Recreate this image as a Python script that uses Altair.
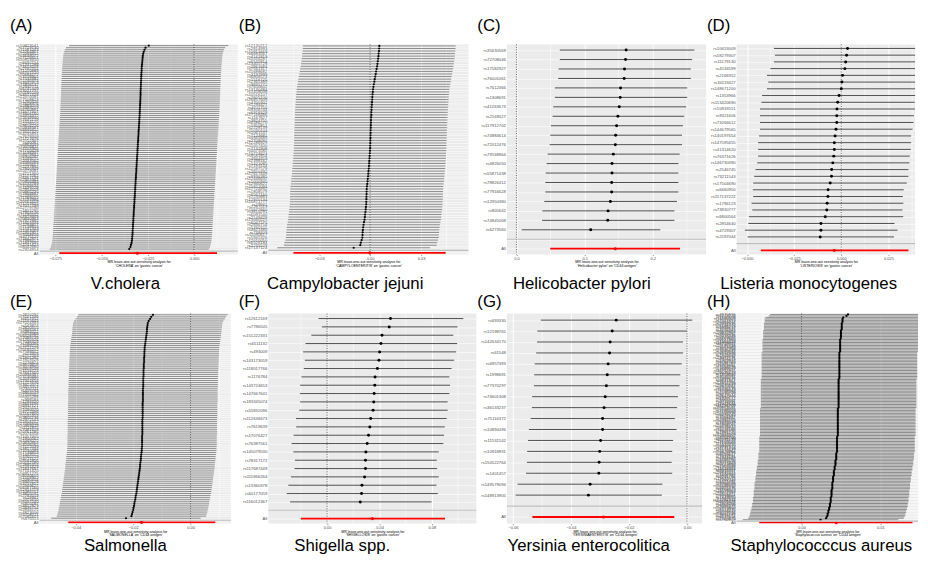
import altair as alt
import pandas as pd

FONT = "Liberation Sans"

# ---------------- Panel A : V.cholera ----------------
A_SNPS = """rs10823541 rs7729130 rs11581043 rs2264907 rs12093812 rs4648072 rs17126651 rs10919450 rs6692154 rs1337288
rs74619208 rs2792751 rs11210889 rs6701520 rs10494172 rs1558902 rs7534982 rs12740374 rs3845913 rs11806132
rs2947711 rs6745309 rs13021737 rs10185209 rs4671328 rs12470581 rs17508823 rs1260326 rs7608976 rs2883059
rs13389219 rs6760891 rs11677407 rs9306160 rs4974372 rs12639940 rs7645179 rs1514175 rs2276015 rs9816226
rs10938397 rs6846452 rs13107325 rs4235831 rs7679309 rs11727676 rs2112347 rs40067 rs6864049 rs10056811
rs4704965 rs7710428 rs13198397 rs9379832 rs6906287 rs1049225 rs2033562 rs9388489 rs12205617 rs2237892
rs7800949 rs10274081 rs4721360 rs1177561 rs6467136 rs2303361 rs10956483 rs4733789 rs13266634 rs1439228
rs2954029 rs10965235 rs7868987 rs2249105 rs11789015 rs3793986 rs10761659 rs11257655 rs7077799 rs12779790
rs1802295 rs7903146 rs11195502 rs4929949 rs10830963 rs7927892 rs11603334 rs2293857 rs7138803 rs1531343
rs11063069 rs12301951 rs9568856 rs4771122 rs11842871 rs7988412 rs11847697 rs2241423 rs8042680 rs2924914""".split()
A_BETA = [-0.0245, -0.0262, -0.0268, -0.0272, -0.0275, -0.0277, -0.0278, -0.0279, -0.0280, -0.0281,
          -0.0282, -0.0283, -0.0283, -0.0284, -0.0285, -0.0285, -0.0286, -0.0286, -0.0287, -0.0287,
          -0.0288, -0.0288, -0.0289, -0.0289, -0.0289, -0.0290, -0.0290, -0.0291, -0.0291, -0.0292,
          -0.0292, -0.0293, -0.0293, -0.0294, -0.0294, -0.0295, -0.0296, -0.0296, -0.0297, -0.0298,
          -0.0298, -0.0299, -0.0300, -0.0300, -0.0301, -0.0302, -0.0302, -0.0303, -0.0304, -0.0304,
          -0.0305, -0.0306, -0.0306, -0.0307, -0.0308, -0.0308, -0.0309, -0.0310, -0.0310, -0.0311,
          -0.0312, -0.0312, -0.0313, -0.0314, -0.0314, -0.0315, -0.0316, -0.0316, -0.0317, -0.0318,
          -0.0318, -0.0319, -0.0320, -0.0320, -0.0321, -0.0322, -0.0322, -0.0323, -0.0324, -0.0324,
          -0.0325, -0.0326, -0.0326, -0.0327, -0.0328, -0.0328, -0.0329, -0.0330, -0.0330, -0.0331,
          -0.0332, -0.0332, -0.0333, -0.0334, -0.0335, -0.0336, -0.0338, -0.0341, -0.0344, -0.0350]
A_HW = 0.043
A_ALL = [-0.0306, -0.0728, 0.0124]

# ---------------- Panel B : Campylobacter jejuni ----------------
B_SNPS = """rs12130212 rs2814993 rs10913469 rs6683567 rs4141819 rs1016287 rs6545814 rs13405728 rs2861684 rs7561317
rs11688682 rs3197999 rs6808574 rs1516725 rs2365389 rs9835772 rs7650602 rs13130484 rs1458038 rs10516107
rs2605100 rs16857609 rs4700302 rs1294421 rs4711750 rs9356744 rs6918329 rs17168486 rs1167827 rs3824755
rs6586270 rs1955851 rs2228139 rs11030104 rs1061537 rs7124681 rs4945689 rs2708092 rs12286929 rs11057400
rs7132908 rs4073582 rs10774624 rs9581854 rs4944359 rs2398162 rs1421085 rs7193144 rs12597579 rs2650492
rs17817449 rs9936385 rs12446632 rs1000940 rs12940622 rs11652094 rs17724992 rs1808579 rs6567160 rs7239883
rs12970134 rs10871777 rs29941 rs2287019 rs11672660 rs3810291 rs6091540 rs2149429 rs13040225 rs6047270
rs2836754 rs5760155 rs4821480 rs738409 rs11090617 rs5945326 rs12010050 rs6526184 rs2235529 rs17137124""".split()
B_BETA = [0.0054, 0.0053, 0.0052, 0.0050, 0.0049, 0.0047, 0.0045, 0.0043, 0.0041, 0.0038,
          0.0035, 0.0033, 0.0030, 0.0027, 0.0025, 0.0022, 0.0019, 0.0017, 0.0016, 0.0014,
          0.0013, 0.0012, 0.0011, 0.0010, 0.0009, 0.0008, 0.0007, 0.0007, 0.0006, 0.0005,
          0.0005, 0.0004, 0.0004, 0.0003, 0.0003, 0.0002, 0.0002, 0.0001, 0.0001, 0.0000,
          0.0000, -0.0001, -0.0002, -0.0003, -0.0004, -0.0005, -0.0006, -0.0007, -0.0008, -0.0010,
          -0.0011, -0.0012, -0.0014, -0.0015, -0.0017, -0.0019, -0.0020, -0.0021, -0.0021, -0.0022,
          -0.0022, -0.0023, -0.0023, -0.0025, -0.0026, -0.0028, -0.0030, -0.0031, -0.0033, -0.0036,
          -0.0039, -0.0041, -0.0043, -0.0044, -0.0045, -0.0046, -0.0050, -0.0055, -0.0058, -0.0097]
B_HW = 0.045
B_ALL = [-0.0003, -0.0452, 0.0445]

# ---------------- Panel C : Helicobacter pylori ----------------
C_SNPS = """rs35630569 rs72708046 rs17582927 rs76001061 rs7612366 rs1308691 rs41263673 rs2169027 rs117912702 rs74884614
rs72012476 rs79168864 rs6826050 rs55871438 rs78826412 rs77916628 rs12950380 rs805642 rs74845068 rs6273560""".split()
C_BETA = [0.1609, 0.1600, 0.1585, 0.1580, 0.1527, 0.1522, 0.1508, 0.1488, 0.1469, 0.1455,
          0.1450, 0.1421, 0.1402, 0.1402, 0.1397, 0.1397, 0.1378, 0.1344, 0.1339, 0.1089]
C_LO = [0.0636, 0.0636, 0.0617, 0.0612, 0.0564, 0.0564, 0.0539, 0.0530, 0.0506, 0.0496,
        0.0487, 0.0458, 0.0443, 0.0429, 0.0424, 0.0424, 0.0409, 0.0380, 0.0376, 0.0077]
C_HI = [0.2610, 0.2577, 0.2558, 0.2558, 0.2505, 0.2505, 0.2490, 0.2461, 0.2442, 0.2428,
        0.2428, 0.2394, 0.2375, 0.2375, 0.2375, 0.2375, 0.2355, 0.2317, 0.2317, 0.2110]
C_ALL = [0.1450, 0.0496, 0.2399]

# ---------------- Panel D : Listeria monocytogenes ----------------
D_SNPS = """rs10653009 rs58279307 rs11179130 rs4534599 rs2168352 rs34119427 rs148671200 rs1353966 rs113420690 rs10833551
rs9321606 rs73266612 rs144679565 rs140197654 rs147595655 rs41314620 rs76371626 rs146730390 rs2546745 rs73211543
rs17504690 rs6660950 rs117137222 rs1796123 rs73830777 rs6800564 rs2854640 rs4729307 rs2597044""".split()
D_BETA = [0.0033, 0.0028, 0.0023, 0.0019, 0.0007, 0.0003, 0.0000, -0.0012, -0.0019, -0.0023,
          -0.0024, -0.0024, -0.0028, -0.0033, -0.0037, -0.0037, -0.0040, -0.0045, -0.0051, -0.0052,
          -0.0059, -0.0070, -0.0071, -0.0075, -0.0077, -0.0085, -0.0108, -0.0108, -0.0112]
D_LO = [-0.0357, -0.0352, -0.0357, -0.0376, -0.0394, -0.0387, -0.0394, -0.0420, -0.0424, -0.0431,
        -0.0431, -0.0431, -0.0431, -0.0436, -0.0441, -0.0441, -0.0441, -0.0446, -0.0455, -0.0462,
        -0.0467, -0.0469, -0.0467, -0.0476, -0.0472, -0.0490, -0.0493, -0.0511, -0.0497]
D_HI = [0.0432, 0.0411, 0.0404, 0.0415, 0.0408, 0.0399, 0.0396, 0.0399, 0.0389, 0.0390,
        0.0385, 0.0383, 0.0378, 0.0370, 0.0370, 0.0368, 0.0363, 0.0361, 0.0356, 0.0356,
        0.0347, 0.0331, 0.0326, 0.0329, 0.0324, 0.0328, 0.0282, 0.0298, 0.0279]
D_ALL = [-0.0037, -0.0427, 0.0356]

# ---------------- Panel E : Salmonella ----------------
E_SNPS = """rs2820292 rs3101336 rs657452 rs11165643 rs17024393 rs543874 rs2820315 rs4846567 rs984222 rs10919388
rs6428792 rs12088739 rs1260326 rs17036328 rs780094 rs13389219 rs2121279 rs10195252 rs7599312 rs13303
rs6712203 rs1801282 rs17819328 rs2276824 rs9879858 rs13078960 rs6809548 rs1516723 rs7647305 rs10938397
rs13130484 rs2035935 rs17001654 rs11727676 rs3822072 rs4457053 rs2307111 rs459193 rs6864049 rs7705502
rs6905288 rs998584 rs1294410 rs9491696 rs6937121 rs2025151 rs1040070 rs4722398 rs1167800 rs10245353
rs3801136 rs2972143 rs12454712 rs17066856 rs10969429 rs1111875 rs7081678 rs10761785 rs2074356 rs11057405
rs1800562 rs1049222 rs10830963 rs4506565 rs7122539 rs3817334 rs11030084 rs7138803 rs1443512 rs4765219
rs4771122 rs9581856 rs10132280 rs12885454 rs2241423 rs11847697 rs7141420 rs16951275 rs8030605 rs1558902
rs2080454 rs9940128 rs3751812 rs12940622 rs6567160 rs12454719 rs11084753 rs3810291 rs2287019 rs29942
rs2075650 rs6091540 rs910187 rs4812829 rs2836754 rs2834225 rs4823006 rs5758511 rs2281617 rs470113""".split()
E_BETA = [-0.0131, -0.0137, -0.0141, -0.0146, -0.0149, -0.0150, -0.0151, -0.0152, -0.0152, -0.0153,
          -0.0154, -0.0155, -0.0156, -0.0157, -0.0158, -0.0159, -0.0160, -0.0160, -0.0161, -0.0161,
          -0.0161, -0.0162, -0.0162, -0.0162, -0.0163, -0.0163, -0.0163, -0.0164, -0.0164, -0.0164,
          -0.0164, -0.0165, -0.0165, -0.0165, -0.0165, -0.0165, -0.0166, -0.0166, -0.0166, -0.0166,
          -0.0166, -0.0166, -0.0166, -0.0167, -0.0167, -0.0167, -0.0167, -0.0167, -0.0167, -0.0167,
          -0.0167, -0.0168, -0.0168, -0.0168, -0.0168, -0.0168, -0.0168, -0.0168, -0.0168, -0.0169,
          -0.0169, -0.0169, -0.0169, -0.0169, -0.0169, -0.0170, -0.0170, -0.0171, -0.0172, -0.0173,
          -0.0173, -0.0174, -0.0175, -0.0176, -0.0176, -0.0177, -0.0178, -0.0179, -0.0180, -0.0181,
          -0.0182, -0.0183, -0.0184, -0.0185, -0.0186, -0.0187, -0.0188, -0.0189, -0.0191, -0.0192,
          -0.0193, -0.0195, -0.0196, -0.0197, -0.0199, -0.0200, -0.0202, -0.0204, -0.0206, -0.0225]
E_HW = 0.026
E_ALL = [-0.0171, -0.0426, 0.0086]

# ---------------- Panel F : Shigella spp. ----------------
F_SNPS = """rs12612169 rs7786505 rs151222331 rs6511132 rs493009 rs143173059 rs118017766 rs1176784 rs143724653 rs147667641
rs183345074 rs55832096 rs112636673 rs7619639 rs17076427 rs76387561 rs145079530 rs78317172 rs117687449 rs111866264
rs13360378 rs60177059 rs116012367""".split()
F_BETA = [0.0484, 0.0474, 0.0419, 0.0411, 0.0401, 0.0396, 0.0384, 0.0366, 0.0364, 0.0359,
          0.0356, 0.0351, 0.0333, 0.0326, 0.0316, 0.0306, 0.0296, 0.0293, 0.0293, 0.0286,
          0.0266, 0.0263, 0.0253]
F_LO = [-0.0065, -0.0040, -0.0120, -0.0165, -0.0183, -0.0170, -0.0178, -0.0196, -0.0206, -0.0208,
        -0.0206, -0.0213, -0.0238, -0.0236, -0.0256, -0.0271, -0.0258, -0.0246, -0.0248, -0.0276,
        -0.0296, -0.0308, -0.0283]
F_HI = [0.1040, 0.0995, 0.0963, 0.0993, 0.0985, 0.0970, 0.0950, 0.0933, 0.0938, 0.0933,
        0.0920, 0.0920, 0.0913, 0.0898, 0.0893, 0.0887, 0.0852, 0.0837, 0.0840, 0.0852,
        0.0835, 0.0845, 0.0797]
F_ALL = [0.0346, -0.0201, 0.0900]

# ---------------- Panel G : Yersinia enterocolitica ----------------
G_SNPS = """rs693330 rs12198765 rs142634170 rs61548 rs6957393 rs1998691 rs77370297 rs74601308 rs36133237 rs75116372
rs10894496 rs11532142 rs10918831 rs150522764 rs1401457 rs149579094 rs148913905""".split()
G_BETA = [-0.0244, -0.0258, -0.0265, -0.0267, -0.0272, -0.0275, -0.0278, -0.0282, -0.0286, -0.0291,
          -0.0291, -0.0298, -0.0301, -0.0303, -0.0304, -0.0334, -0.0340]
G_LO = [-0.0504, -0.0516, -0.0517, -0.0520, -0.0525, -0.0527, -0.0528, -0.0534, -0.0535, -0.0539,
        -0.0545, -0.0548, -0.0551, -0.0552, -0.0555, -0.0584, -0.0591]
G_HI = [0.0018, -0.0001, -0.0014, -0.0014, -0.0018, -0.0023, -0.0026, -0.0031, -0.0034, -0.0042,
        -0.0036, -0.0048, -0.0051, -0.0053, -0.0051, -0.0085, -0.0087]
G_ALL = [-0.0288, -0.0533, -0.0044]

# ---------------- Panel H : Staphylococcus aureus ----------------
H_SNPS = """rs4970836 rs2274224 rs1890608 rs11585329 rs7527453 rs10494217 rs2494938 rs12731372 rs6688233 rs1933437
rs2235543 rs4656461 rs10922907 rs3820282 rs11118346 rs2820443 rs6667605 rs10127983 rs1553318 rs11893063
rs6759321 rs10195346 rs1191548 rs4852954 rs17035289 rs2680344 rs12617656 rs7578326 rs2302032 rs13072536
rs9811171 rs1402837 rs6764769 rs2581787 rs11925057 rs7653296 rs13088318 rs4687657 rs11715915 rs10025123
rs7675812 rs1458045 rs4505591 rs17046216 rs6837671 rs2631367 rs12657266 rs4916219 rs10070397 rs2910164
rs6450176 rs11746443 rs7708584 rs2070729 rs9275572 rs2647044 rs6930777 rs1322512 rs9350602 rs4711091
rs2072641 rs11761528 rs4236709 rs10953541 rs12154055 rs2286503 rs17160669 rs10504229 rs6470745 rs1561927
rs7008482 rs2941505 rs10090154 rs1333049 rs7859727 rs10758593 rs4978412 rs2236160 rs11014166 rs7905720
rs1891215 rs12413409 rs10886452 rs4752700 rs11191193 rs2292239 rs11603023 rs7130588 rs1552224 rs10840970
rs3741414 rs11171739 rs1270942 rs10876864 rs4765127 rs9319617 rs7333181 rs4941649 rs1359790 rs9585056
rs8017423 rs2273889 rs12587839 rs1959088 rs11624333 rs8033381 rs2415317 rs16942421 rs7172432 rs4886782
rs2241766 rs11642015 rs7202116 rs1421081 rs8050136 rs4788099 rs12446550 rs2255336 rs9901675 rs11658063
rs8073963 rs12451471 rs6503451 rs7239885 rs1943650 rs17782313 rs10406431 rs8101428 rs2304256 rs4802998
rs2067474 rs12979860 rs6113970 rs2424245 rs6023746 rs13037326 rs2838171 rs6517656 rs2160875 rs5762809""".split()
H_BETA = [0.0059, 0.0057, 0.0053, 0.0052, 0.0052, 0.0052, 0.0051, 0.0051, 0.0051, 0.0051,
          0.0051, 0.0050, 0.0050, 0.0050, 0.0050, 0.0050, 0.0050, 0.0049, 0.0049, 0.0049,
          0.0049, 0.0049, 0.0049, 0.0049, 0.0049, 0.0049, 0.0048, 0.0048, 0.0048, 0.0048,
          0.0048, 0.0048, 0.0048, 0.0048, 0.0048, 0.0048, 0.0048, 0.0048, 0.0048, 0.0048,
          0.0048, 0.0048, 0.0048, 0.0048, 0.0047, 0.0047, 0.0047, 0.0047, 0.0047, 0.0047,
          0.0047, 0.0047, 0.0047, 0.0047, 0.0047, 0.0047, 0.0047, 0.0047, 0.0047, 0.0047,
          0.0047, 0.0047, 0.0047, 0.0047, 0.0046, 0.0046, 0.0046, 0.0046, 0.0046, 0.0046,
          0.0046, 0.0046, 0.0046, 0.0046, 0.0046, 0.0046, 0.0046, 0.0046, 0.0046, 0.0046,
          0.0046, 0.0046, 0.0046, 0.0045, 0.0045, 0.0045, 0.0045, 0.0045, 0.0045, 0.0045,
          0.0045, 0.0045, 0.0045, 0.0045, 0.0044, 0.0044, 0.0044, 0.0044, 0.0044, 0.0043,
          0.0043, 0.0043, 0.0043, 0.0042, 0.0042, 0.0042, 0.0041, 0.0041, 0.0041, 0.0041,
          0.0040, 0.0040, 0.0040, 0.0040, 0.0039, 0.0039, 0.0039, 0.0039, 0.0039, 0.0038,
          0.0038, 0.0038, 0.0038, 0.0038, 0.0037, 0.0037, 0.0037, 0.0037, 0.0036, 0.0036,
          0.0036, 0.0035, 0.0035, 0.0034, 0.0034, 0.0033, 0.0033, 0.0032, 0.0031, 0.0024]
H_HW = 0.0099
H_ALL = [0.0044, -0.0054, 0.0141]

PANELS = [
    dict(tag="(A)", species="V.cholera", snps=A_SNPS, beta=A_BETA, hw=A_HW, all=A_ALL,
         exposure="CHOLERA", outcome="gastric cancer",
         domain=[-0.0835, 0.0236], ticks=[-0.075, -0.05, -0.025, 0.0], fmt=".3f",
         minor=[-0.0625, -0.0375, -0.0125, 0.0125], width=201, tag_y=-27, sp_x=87, sp_y=248),
    dict(tag="(B)", species="Campylobacter jejuni", snps=B_SNPS, beta=B_BETA, hw=B_HW, all=B_ALL,
         exposure="CAMPYLOENTERITIS", outcome="gastric cancer",
         domain=[-0.0600, 0.0579], ticks=[-0.03, 0.0, 0.03], fmt=".2f",
         minor=[-0.045, -0.015, 0.015, 0.045], width=203, tag_y=-27, sp_x=78, sp_y=248),
    dict(tag="(C)", species="Helicobacter pylori", snps=C_SNPS, beta=C_BETA, lo=C_LO, hi=C_HI, all=C_ALL,
         exposure="Helicobacter pylori", outcome="CD44 antigen",
         domain=[-0.0140, 0.2781], ticks=[0.0, 0.1, 0.2], fmt=".1f",
         minor=[0.05, 0.15, 0.25], width=202, tag_y=-27, sp_x=76, sp_y=248),
    dict(tag="(D)", species="Listeria monocytogenes", snps=D_SNPS, beta=D_BETA, lo=D_LO, hi=D_HI, all=D_ALL,
         exposure="LISTERIOSIS", outcome="gastric cancer",
         domain=[-0.0555, 0.0391], ticks=[-0.05, -0.025, 0.0, 0.025], fmt=".3f",
         minor=[-0.0375, -0.0125, 0.0125, 0.0375], width=181, tag_y=-27, sp_x=73, sp_y=248),
    dict(tag="(E)", species="Salmonella", snps=E_SNPS, beta=E_BETA, hw=E_HW, all=E_ALL,
         exposure="SALMONELLA", outcome="CD44 antigen",
         domain=[-0.0526, 0.0140], ticks=[-0.04, -0.02, 0.0], fmt=".2f",
         minor=[-0.05, -0.03, -0.01, 0.01], width=194, tag_y=-20, sp_x=87, sp_y=241),
    dict(tag="(F)", species="Shigella spp.", snps=F_SNPS, beta=F_BETA, lo=F_LO, hi=F_HI, all=F_ALL,
         exposure="SHIGELLOSIS", outcome="gastric cancer",
         domain=[-0.0449, 0.1139], ticks=[0.0, 0.04, 0.08], fmt=".2f",
         minor=[-0.02, 0.02, 0.06, 0.10], width=211, tag_y=-20, sp_x=75, sp_y=241),
    dict(tag="(G)", species="Yersinia enterocolitica", snps=G_SNPS, beta=G_BETA, lo=G_LO, hi=G_HI, all=G_ALL,
         exposure="YERSINIAENTERITIS", outcome="CD44 antigen",
         domain=[-0.0621, 0.0052], ticks=[-0.06, -0.04, -0.02, 0.0], fmt=".2f",
         minor=[-0.05, -0.03, -0.01], width=198, tag_y=-20, sp_x=83, sp_y=241),
    dict(tag="(H)", species="Staphylococccus aureus", snps=H_SNPS, beta=H_BETA, hw=H_HW, all=H_ALL,
         exposure="Staphylococcus aureus", outcome="CD44 antigen",
         domain=[-0.00828, 0.01481], ticks=[0.0, 0.01], fmt=".2f",
         minor=[-0.005, 0.005, 0.015], width=184, tag_y=-20, sp_x=86, sp_y=241),
]

PLOT_H = 213


def make_panel(p):
    snps = p["snps"]
    beta = p["beta"]
    dense = "lo" not in p
    if dense:
        lo = [b - p["hw"] for b in beta]
        hi = [b + p["hw"] for b in beta]
    else:
        lo, hi = p["lo"], p["hi"]
    ci_w = 0.5 if dense else 0.8
    pt_size = 5 if dense else 9
    order = snps + [" ", "All"]
    ysc = alt.Scale(domain=order, type="point", padding=0.6)
    xsc = alt.Scale(domain=p["domain"], nice=False, zero=False)
    yax = alt.Axis(title=None, labelFontSize=4.3, ticks=False, labelPadding=1.5,
                   grid=True, gridColor="white", gridWidth=0.6, domain=False,
                   labelOverlap=False, labelColor="#555555")
    xax = alt.Axis(values=p["ticks"], format=p["fmt"],
                   title=["MR leave-one-out sensitivity analysis for",
                          f"'{p['exposure']}' on '{p['outcome']}'"],
                   titleFontSize=3.6, titleFontWeight="normal", titleColor="black",
                   titlePadding=0, titleLineHeight=3.8,
                   labelFontSize=4, labelPadding=0.5, labelColor="#4D4D4D",
                   tickSize=1.2, tickColor="#333333", tickWidth=0.5,
                   grid=True, gridColor="white", gridWidth=1, domain=False,
                   labelFlush=False, labelOverlap=False)

    df = pd.DataFrame({"snp": snps, "b": beta, "lo": lo, "hi": hi})
    dall = pd.DataFrame({"snp": ["All"], "b": [p["all"][0]], "lo": [p["all"][1]], "hi": [p["all"][2]]})

    minor = alt.Chart(pd.DataFrame({"x": p["minor"]})).mark_rule(
        color="white", strokeWidth=0.5).encode(x=alt.X("x:Q", scale=xsc, axis=xax))
    zero = alt.Chart(pd.DataFrame({"x": [0.0]})).mark_rule(
        color="black", strokeWidth=0.6, strokeDash=[1, 1.5]).encode(
        x=alt.X("x:Q", scale=xsc, axis=xax))
    ci = alt.Chart(df).mark_rule(color="#222222", strokeWidth=ci_w, clip=True).encode(
        x=alt.X("lo:Q", scale=xsc, axis=xax), x2="hi:Q",
        y=alt.Y("snp:N", scale=ysc, axis=yax, sort=None))
    pts = alt.Chart(df).mark_circle(color="black", size=pt_size, opacity=1).encode(
        x=alt.X("b:Q", scale=xsc, axis=xax),
        y=alt.Y("snp:N", scale=ysc, axis=yax, sort=None))
    all_ci = alt.Chart(dall).mark_rule(color="#FF0000", strokeWidth=1.8, clip=True).encode(
        x=alt.X("lo:Q", scale=xsc, axis=xax), x2="hi:Q",
        y=alt.Y("snp:N", scale=ysc, axis=yax, sort=None))
    all_pt = alt.Chart(dall).mark_circle(color="#FF0000", size=10, opacity=1).encode(
        x=alt.X("b:Q", scale=xsc, axis=xax),
        y=alt.Y("snp:N", scale=ysc, axis=yax, sort=None))
    gap = alt.Chart(pd.DataFrame({"snp": [" "]})).mark_rule(
        color="#BEBEBE", strokeWidth=1.2).encode(
        y=alt.Y("snp:N", scale=ysc, axis=yax, sort=None))
    tag = alt.Chart(pd.DataFrame({"t": [p["tag"]]})).mark_text(
        align="left", baseline="top", fontSize=17, font=FONT, color="black").encode(
        text="t:N", x=alt.value(-30), y=alt.value(p["tag_y"]))
    sp = alt.Chart(pd.DataFrame({"t": [p["species"]]})).mark_text(
        align="center", baseline="alphabetic", fontSize=17, font=FONT, color="black").encode(
        text="t:N", x=alt.value(p["sp_x"]), y=alt.value(p["sp_y"]))
    return alt.layer(minor, zero, ci, pts, all_ci, all_pt, gap, tag, sp).properties(
        width=p["width"], height=PLOT_H)


charts = [make_panel(p) for p in PANELS]

chart = alt.concat(*charts, columns=4, align="none", bounds="flush",
                   spacing={"row": 60, "column": 31}).properties(
    padding={"left": 2, "top": 5, "right": 0, "bottom": 0}
).configure(font=FONT).configure_view(fill="#EBEBEB", stroke=None).configure_axis(
    labelFont=FONT, titleFont=FONT)

chart.save("out.html", embed_options={"renderer": "svg", "actions": False})
